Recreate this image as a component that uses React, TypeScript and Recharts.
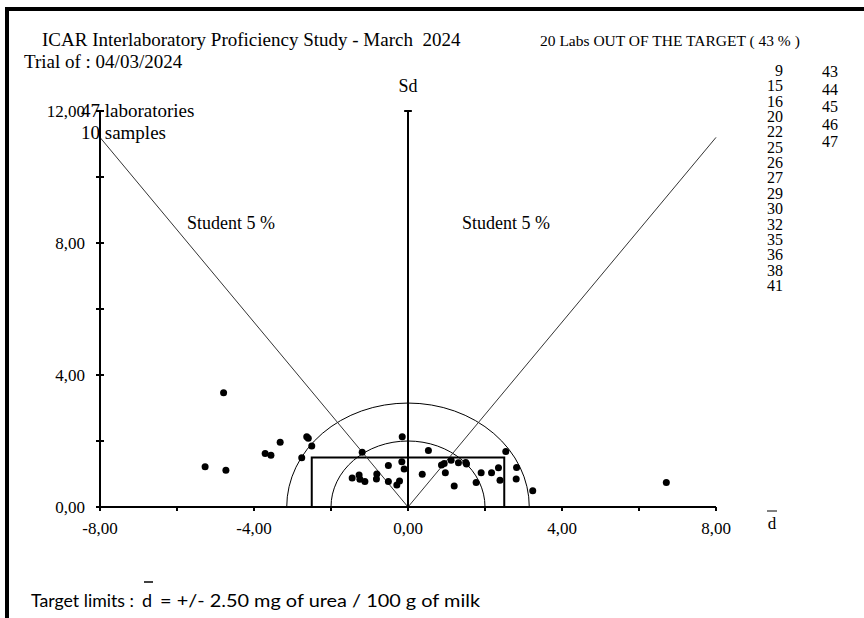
import React from 'react'
import {ReferenceArea, ReferenceLine, Scatter, ScatterChart, XAxis, YAxis} from 'recharts'

// mean deviation (d) and standard deviation (Sd) per lab
const D_VALUES = [
    -5.27, -4.79, -4.73, -3.71, -3.56, -3.32, -2.76, -2.63, -2.59, -2.50,
    -1.45, -1.27, -1.25, -1.19, -1.12, -0.82, -0.81, -0.51, -0.51, -0.29,
    -0.22, -0.16, -0.15, -0.10, 0.37, 0.53, 0.87, 0.94, 0.97, 1.12,
    1.20, 1.31, 1.50, 1.52, 1.77, 1.90, 2.17, 2.35, 2.39, 2.54,
    2.81, 2.82, 3.24, 6.71,
]
const SD_VALUES = [
    1.22, 3.46, 1.11, 1.62, 1.57, 1.96, 1.49, 2.13, 2.08, 1.85,
    0.88, 0.97, 0.84, 1.66, 0.77, 0.85, 1.00, 1.26, 0.77, 0.67,
    0.79, 1.37, 2.13, 1.15, 0.99, 1.71, 1.27, 1.32, 1.04, 1.42,
    0.64, 1.34, 1.35, 1.30, 0.74, 1.04, 1.04, 1.19, 0.81, 1.68,
    0.85, 1.20, 0.49, 0.74,
]

const X_TICKS = [-8, -6, -4, -2, 0, 2, 4, 6, 8]
const X_LABELED = [-8, -4, 0, 4, 8]
const Y_TICKS = [0, 2, 4, 6, 8, 10, 12]
const Y_LABELED = [0, 4, 8, 12]

const TARGET_LIMIT = 2.5
const TARGET_SD = 1.5
const CIRCLE_RADII = [2, 3.15]
const STUDENT_ENDS = [{x: -8, y: 11.2}, {x: 8, y: 11.2}]

const LABS_OUT_COL1 = ['9', '15', '16', '20', '22', '25', '26', '27', '29', '30', '32', '35', '36', '38', '41']
const LABS_OUT_COL2 = ['43', '44', '45', '46', '47']

const SERIF = '"Liberation Serif", "Times New Roman", serif'
const SANS = 'Lato, "Noto Sans", sans-serif'

const fmt = (v: number) => v.toFixed(2).replace('.', ',')

const renderXTick = ({x, y, payload}: any) => (
    <g key={`xt-${payload.value}`}>
        <line x1={x} y1={y} x2={x} y2={y + 4} stroke="#000" strokeWidth={2}/>
        {X_LABELED.includes(payload.value) && (
            <text x={x} y={y + 27} textAnchor="middle" fontFamily={SERIF} fontSize={17} fill="#000">
                {fmt(payload.value)}
            </text>
        )}
    </g>
)

const renderYTick = ({x, y, payload}: any) => (
    <g key={`yt-${payload.value}`}>
        <line x1={x - 4} y1={y} x2={x + 4} y2={y} stroke="#000" strokeWidth={2}/>
        {Y_LABELED.includes(payload.value) && (
            <text x={x - 15} y={y + 6} textAnchor="end" fontFamily={SERIF} fontSize={17} fill="#000">
                {fmt(payload.value)}
            </text>
        )}
    </g>
)

// half ellipse in pixel space = half circle in data space
const halfCircle = ({x, y, width, height}: any) => (
    <path
        d={`M${x},${y + height} A${width / 2},${height} 0 0 1 ${x + width},${y + height}`}
        fill="none"
        stroke="#000"
        strokeWidth={1}
    />
)

export default function App() {
    const data = D_VALUES.map((d, i) => ({d, sd: SD_VALUES[i]}))

    return (
        <div style={{position: 'absolute', left: 0, top: 0, width: 864, height: 618, background: '#fff'}}>
            <ScatterChart width={864} height={618} margin={{top: 111, right: 148, bottom: 71, left: 40}}>
                <XAxis
                    type="number"
                    dataKey="d"
                    domain={[-8, 8]}
                    ticks={X_TICKS}
                    height={40}
                    tickSize={0}
                    tickMargin={0}
                    tick={renderXTick}
                    axisLine={{stroke: '#000', strokeWidth: 2}}
                    allowDataOverflow
                />
                <YAxis
                    type="number"
                    dataKey="sd"
                    domain={[0, 12]}
                    ticks={Y_TICKS}
                    width={60}
                    tickSize={0}
                    tickMargin={0}
                    tick={renderYTick}
                    axisLine={{stroke: '#000', strokeWidth: 2}}
                    allowDataOverflow
                />

                {CIRCLE_RADII.map(r => (
                    <ReferenceArea key={r} x1={-r} x2={r} y1={0} y2={r} shape={halfCircle} ifOverflow="visible"/>
                ))}
                <ReferenceArea
                    x1={-TARGET_LIMIT}
                    x2={TARGET_LIMIT}
                    y1={0}
                    y2={TARGET_SD}
                    fill="none"
                    fillOpacity={0}
                    stroke="#000"
                    strokeWidth={2}
                />
                {STUDENT_ENDS.map((p, i) => (
                    <ReferenceLine key={i} segment={[{x: 0, y: 0}, p]} stroke="#333" strokeWidth={1}/>
                ))}
                <ReferenceLine segment={[{x: 0, y: 0}, {x: 0, y: 12}]} stroke="#000" strokeWidth={2}/>
                <ReferenceLine segment={[{x: -0.1, y: 12}, {x: 0.1, y: 12}]} stroke="#000" strokeWidth={2}/>

                <Scatter
                    data={data}
                    fill="#000"
                    isAnimationActive={false}
                    shape={(p: any) => <circle cx={p.cx} cy={p.cy} r={3.5} fill="#000"/>}
                />
            </ScatterChart>

            <svg width={864} height={618} style={{position: 'absolute', left: 0, top: 0, pointerEvents: 'none'}}>
                {/* frame */}
                <rect x={5} y={7} width={859} height={4} fill="#000"/>
                <rect x={5} y={7} width={4} height={611} fill="#000"/>

                <g fontFamily={SERIF} fill="#000">
                    <text x={42} y={46} fontSize={19}>{'ICAR Interlaboratory Proficiency Study - March\u00a0 2024'}</text>
                    <text x={24} y={68} fontSize={19}>Trial of : 04/03/2024</text>
                    <text x={540} y={46} fontSize={15.5}>20 Labs OUT OF THE TARGET ( 43 % )</text>
                    <text x={408} y={92} fontSize={18} textAnchor="middle">Sd</text>
                    <text x={81} y={117} fontSize={19}>47 laboratories</text>
                    <text x={81} y={139} fontSize={19}>10 samples</text>
                    <text x={187} y={229} fontSize={18}>Student 5 %</text>
                    <text x={462} y={229} fontSize={18}>Student 5 %</text>
                    <text x={772} y={529} fontSize={17} textAnchor="middle">d</text>
                    {LABS_OUT_COL1.map((lab, i) => (
                        <text key={lab} x={783} y={76 + i * 15.35} fontSize={16} textAnchor="end">{lab}</text>
                    ))}
                    {LABS_OUT_COL2.map((lab, i) => (
                        <text key={lab} x={838} y={77 + i * 17.6} fontSize={16} textAnchor="end">{lab}</text>
                    ))}
                </g>
                <line x1={767} y1={511} x2={777} y2={511} stroke="#000" strokeWidth={1}/>

                <g fontFamily={SANS} fontSize={18} fill="#000">
                    <text x={31} y={607} textLength={103} lengthAdjust="spacingAndGlyphs">Target limits :</text>
                    <text x={142} y={607}>d</text>
                    <text x={160} y={607} textLength={320} lengthAdjust="spacingAndGlyphs">= +/- 2.50 mg of urea / 100 g of milk</text>
                </g>
                <line x1={144} y1={582} x2={153} y2={582} stroke="#000" strokeWidth={1.5}/>
            </svg>
        </div>
    )
}
